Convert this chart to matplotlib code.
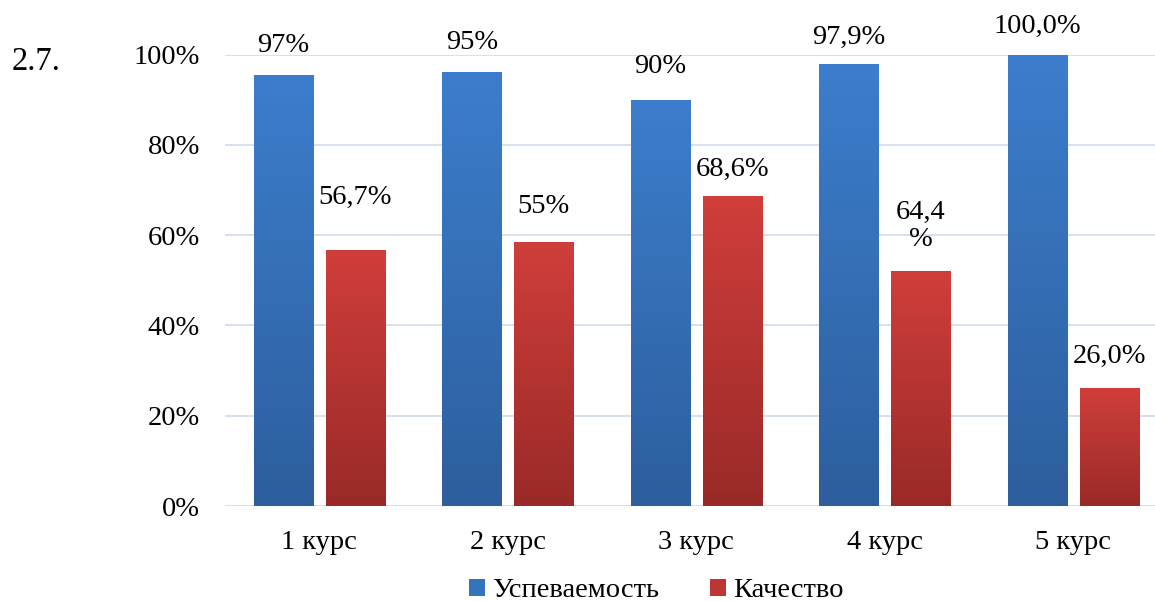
import matplotlib.pyplot as plt
import numpy as np
from matplotlib.colors import LinearSegmentedColormap
from matplotlib.patches import Patch

plt.rcParams['font.family'] = ['Liberation Serif', 'DejaVu Serif']

categories = ['1 курс', '2 курс', '3 курс', '4 курс', '5 курс']
uspev = [95.5, 96.2, 90.0, 97.9, 100.0]
kachestvo = [56.7, 58.5, 68.6, 52.0, 26.1]
uspev_labels = ['97%', '95%', '90%', '97,9%', '100,0%']
kach_labels = ['56,7%', '55%', '68,6%', '64,4\n%', '26,0%']
# label offsets above bar top, in pixels (hand placed in the original)
uspev_off = [29, 29, 33, 27, 28]
kach_off = [53, 35, 27, 45, 32]
yticks = [0, 20, 40, 60, 80, 100]

blue_cm = LinearSegmentedColormap.from_list('b', ['#2D5E9D', '#3C7ECD'])
red_cm = LinearSegmentedColormap.from_list('r', ['#992A28', '#D03E3B'])

fig = plt.figure(figsize=(11.55, 6.01), dpi=100)
ax = fig.add_axes([225 / 1155, 95 / 601, 942.5 / 1155, 451.5 / 601])

x = np.arange(len(categories))
w = 0.313
off = 0.191

bars_b = ax.bar(x - off, uspev, w, color='none', zorder=3)
bars_r = ax.bar(x + off, kachestvo, w, color='none', zorder=3)

grad = np.linspace(0, 1, 256).reshape(-1, 1)
for bars, cm in [(bars_b, blue_cm), (bars_r, red_cm)]:
    for b in bars:
        x0, h, bw = b.get_x(), b.get_height(), b.get_width()
        im = ax.imshow(grad, cmap=cm, origin='lower', aspect='auto',
                       extent=(x0, x0 + bw, 0, h), zorder=3)
        im.set_clip_path(b)

for i in range(len(categories)):
    ax.annotate(uspev_labels[i], (x[i] - off, uspev[i]), xytext=(0, uspev_off[i] * 0.72),
                textcoords='offset points', ha='center', va='center', fontsize=20.5,
                annotation_clip=False, linespacing=1.1)
    ax.annotate(kach_labels[i], (x[i] + off, kachestvo[i]), xytext=(0, kach_off[i] * 0.72),
                textcoords='offset points', ha='center', va='center', fontsize=20.5,
                annotation_clip=False, linespacing=1.1)

ax.set_xlim(-0.5, 4.5)
ax.set_ylim(0, 100)
ax.set_yticks(yticks)
ax.set_yticklabels([f'{t}%' for t in yticks], fontsize=20.5)
ax.set_xticks(x)
ax.set_xticklabels(categories, fontsize=20.5)
ax.tick_params(length=0)
ax.tick_params(axis='y', pad=18)
ax.tick_params(axis='x', pad=17)
ax.grid(axis='y', color='#D3DEEE', linewidth=1.3, zorder=0)
ax.set_axisbelow(True)
for s in ax.spines.values():
    s.set_visible(False)

fig.text(12 / 1155, 1 - 62 / 601, '2.7.', fontsize=23.5, ha='left', va='center')

handles = [Patch(facecolor='#3573BD'), Patch(facecolor='#BE3633')]
fig.legend(handles, ['Успеваемость', 'Качество'], loc='center', ncol=2,
           bbox_to_anchor=(0.568, 0.017), frameon=False, fontsize=20.5,
           handlelength=0.55, handleheight=0.55, handletextpad=0.25,
           columnspacing=1.8, borderpad=0)

fig.savefig('out.png', dpi=100)
